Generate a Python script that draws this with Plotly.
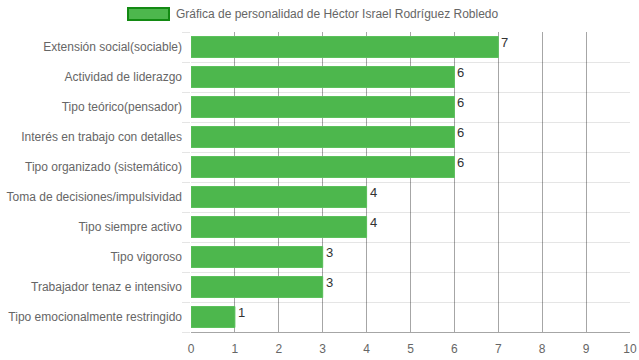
import plotly.graph_objects as go

categories = [
    "Extensión social(sociable)",
    "Actividad de liderazgo",
    "Tipo teórico(pensador)",
    "Interés en trabajo con detalles",
    "Tipo organizado (sistemático)",
    "Toma de decisiones/impulsividad",
    "Tipo siempre activo",
    "Tipo vigoroso",
    "Trabajador tenaz e intensivo",
    "Tipo emocionalmente restringido",
]
values = [7, 6, 6, 6, 6, 4, 4, 3, 3, 1]
series_name = "Gráfica de personalidad de Héctor Israel Rodríguez Robledo"
x_ticks = list(range(0, 11))

W, H = 639, 360
L, R, T, B = 191, 630, 32, 332

idx = list(range(len(categories)))

fig = go.Figure()
fig.add_trace(go.Bar(
    x=values, y=idx, orientation="h", width=0.7,
    marker=dict(color="#4db74d", line=dict(color="#5cc25c", width=1)),
    showlegend=False, hoverinfo="skip",
))

annotations = []
for i, v in zip(idx, values):
    annotations.append(dict(
        x=v, y=i - 0.35, xref="x", yref="y", text=str(v), showarrow=False,
        xanchor="left", yanchor="top", xshift=1, yshift=4,
        font=dict(family="Liberation Sans Narrow, Liberation Sans, Arial", size=13, color="#333"),
    ))

def px(xp):
    return (xp - L) / (R - L)

def py(yp):
    return (B - yp) / (B - T)

annotations.append(dict(
    x=px(174), y=py(14), xref="paper", yref="paper", text=series_name,
    showarrow=False, xanchor="left", yanchor="middle",
    font=dict(family="Liberation Sans, Arial", size=12, color="#666"),
))

shapes = [dict(
    type="rect", xref="paper", yref="paper",
    x0=px(128), x1=px(169), y0=py(20), y1=py(8),
    fillcolor="#4db74d", line=dict(color="#138a13", width=2),
)]

fig.update_layout(
    width=W, height=H,
    margin=dict(l=L, r=W - R, t=T, b=H - B, pad=0, autoexpand=False),
    paper_bgcolor="white", plot_bgcolor="white",
    font=dict(family="Liberation Sans, Arial", size=12, color="#666"),
    annotations=annotations, shapes=shapes,
    bargap=0.3,
    xaxis=dict(
        range=[0, 10], tickvals=x_ticks, showgrid=True, gridcolor="rgba(0,0,0,0.35)",
        gridwidth=1, zeroline=False, showline=True, linecolor="rgba(0,0,0,0.35)",
        ticks="", tickfont=dict(size=12, color="#666"), layer="above traces",
        ticklabelstandoff=6,
        fixedrange=True, automargin=False,
    ),
    yaxis=dict(
        range=[len(categories) - 0.5, -0.5], tickvals=idx, ticktext=categories,
        showgrid=False, zeroline=False, showline=False, ticks="",
        ticklabelstandoff=8, automargin=False,
        minor=dict(tickvals=[i - 0.5 for i in range(len(categories) + 1)],
                   showgrid=True, gridcolor="rgba(0,0,0,0.1)", gridwidth=1,
                   ticks="outside", ticklen=8, tickcolor="rgba(0,0,0,0.1)"),
        fixedrange=True,
    ),
)

fig.write_html(
    "out.html",
    config={"displayModeBar": False},
    post_script="document.body.style.margin='0';document.body.style.overflow='hidden';",
)
